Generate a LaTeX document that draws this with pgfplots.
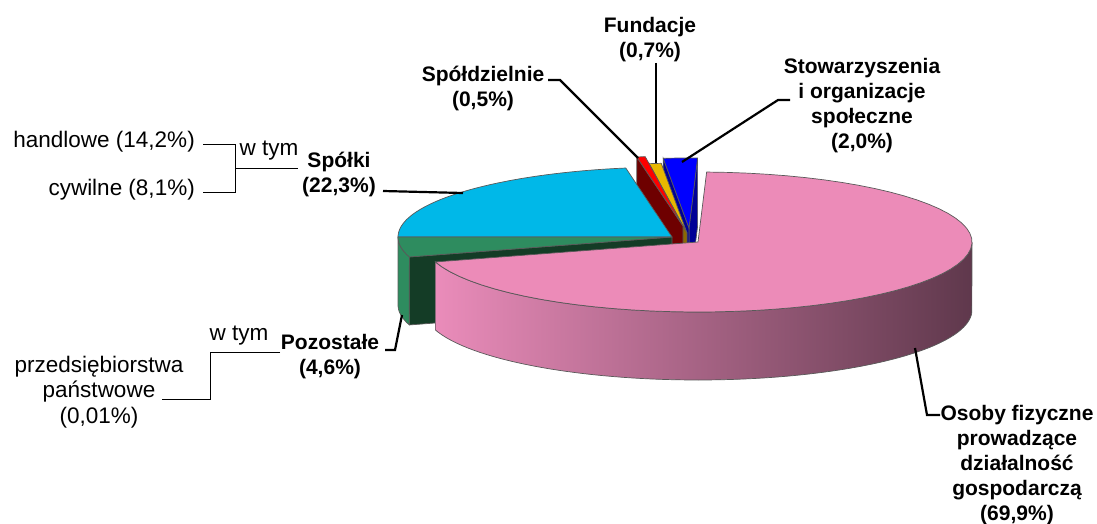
\documentclass[border=0pt]{standalone}
\usepackage{pgfplots}
\pgfplotsset{compat=1.18}
\usepackage{pgfplotstable}
\usepackage{fontspec}
\setmainfont{Liberation Sans}

\definecolor{cCyan}{RGB}{0,184,232}
\definecolor{cTeal}{RGB}{10,90,110}
\definecolor{cGreen}{RGB}{46,140,95}
\definecolor{cGreenD}{RGB}{20,60,38}
\definecolor{cPink}{RGB}{236,139,184}
\definecolor{cPinkL}{RGB}{234,140,186}
\definecolor{cPinkM}{RGB}{190,112,150}
\definecolor{cPinkD}{RGB}{95,56,76}
\definecolor{cRed}{RGB}{255,0,0}
\definecolor{cRedD}{RGB}{110,0,0}
\definecolor{cYel}{RGB}{232,184,0}
\definecolor{cYelD}{RGB}{140,105,0}
\definecolor{cBlue}{RGB}{0,0,255}
\definecolor{cBlueD}{RGB}{0,0,150}

% shares in percent, counter-clockwise starting at the blue slice
\pgfplotstableread{
slice pct
Stowarzyszenia 2.0
Fundacje 0.7
Spoldzielnie 0.5
Spolki 22.3
Pozostale 4.6
Osoby 69.9
}\slices
\pgfplotstablegetelem{0}{pct}\of\slices\let\pA\pgfplotsretval%
\pgfplotstablegetelem{1}{pct}\of\slices\let\pB\pgfplotsretval%
\pgfplotstablegetelem{2}{pct}\of\slices\let\pC\pgfplotsretval%
\pgfplotstablegetelem{3}{pct}\of\slices\let\pD\pgfplotsretval%
\pgfplotstablegetelem{4}{pct}\of\slices\let\pE\pgfplotsretval%
\pgfplotstablegetelem{5}{pct}\of\slices\let\pF\pgfplotsretval%
\pgfmathsetmacro\aA{180-3.6*(\pA+\pB+\pC+\pD)}%
\pgfmathsetmacro\aB{\aA+3.6*\pA}%
\pgfmathsetmacro\aC{\aB+3.6*\pB}%
\pgfmathsetmacro\aD{\aC+3.6*\pC}%
\pgfmathsetmacro\aE{\aD+3.6*\pD}%
\pgfmathsetmacro\aF{\aE+3.6*\pE}%
\pgfmathsetmacro\aG{\aF+3.6*\pF}%

\newcommand\RX{274}
\newcommand\RY{70}
\newcommand\DZ{68}

\newcommand\topface[5]{%
 \addplot[fill=#5,draw=black!65,line width=0.7pt,domain=#3:#4,samples=60,variable=\t]
   ({#1+\RX*cos(\t)},{#2-\RY*sin(\t)}) -- (axis cs:#1,#2) -- cycle;}
\newcommand\sideface[5]{%
 \addplot[#5,draw=black!65,line width=0.7pt,domain=0:2,samples=161,variable=\s]
 ({#1+\RX*cos(\s<1.00001 ? #3+(#4-#3)*\s : #4-(#4-#3)*(\s-1))},
  {#2-\RY*sin(\s<1.00001 ? #3+(#4-#3)*\s : #4-(#4-#3)*(\s-1))+(\s>1.00001)*\DZ}) -- cycle;}
\newcommand\radface[4]{%
 \pgfmathsetmacro\fx{#1+\RX*cos(#3)}%
 \pgfmathsetmacro\fy{#2-\RY*sin(#3)}%
 \pgfmathsetmacro\fyh{\fy+\DZ}%
 \pgfmathsetmacro\cyh{#2+\DZ}%
 \addplot[fill=#4,draw=black!65,line width=0.7pt] coordinates {(#1,#2) (\fx,\fy) (\fx,\fyh) (#1,\cyh)} -- cycle;}

\newcommand\bl{\fontsize{21}{25}\selectfont\bfseries}
\newcommand\nl{\fontsize{22.5}{25.5}\selectfont}

\begin{document}%
\begin{tikzpicture}
\begin{axis}[width=1097pt,height=524pt,scale only axis,
  xmin=0,xmax=1097,ymin=0,ymax=524,y dir=reverse,hide axis,clip=false]
% blue (Stowarzyszenia), exploded
\radface{689}{228}{\aA}{cBlueD}
\radface{689}{228}{\aB}{cBlueD}
\topface{689}{228}{\aA}{\aB}{cBlue}
% yellow (Fundacje)
\radface{687}{233}{\aC}{cYelD}
\topface{687}{233}{\aB}{\aC}{cYel}
% red (Spoldzielnie)
\radface{683}{226}{\aD}{cRedD}
\topface{683}{226}{\aC}{\aD}{cRed}
% cyan (Spolki)
\topface{672}{237}{\aD}{\aE}{cCyan}
\draw[cTeal,line width=2.5pt] (axis cs:399,238.5) -- (axis cs:671,238.5);
% green (Pozostale)
\sideface{672}{237}{\aE}{\aF}{fill=cGreen}
\radface{672}{237}{\aF}{cGreenD}
\topface{672}{237}{\aE}{\aF}{cGreen}
% pink (Osoby fizyczne), exploded
\sideface{698}{242}{\aF}{360}{left color=cPinkL,middle color=cPinkM,right color=cPinkD}
\topface{698}{242}{\aF}{\aG}{cPink}

% leader lines
\draw[line width=2.2pt] (axis cs:548,80) -- (axis cs:560,80) -- (axis cs:638,158);
\draw[line width=2.2pt] (axis cs:656,63) -- (axis cs:656,163);
\draw[line width=2.2pt] (axis cs:790,100) -- (axis cs:778,100) -- (axis cs:682,162);
\draw[line width=2.2pt] (axis cs:383,191) -- (axis cs:463,193);
\draw[line width=2.2pt] (axis cs:385,350) -- (axis cs:395,350) -- (axis cs:402,315);
\draw[line width=2.2pt] (axis cs:940,415) -- (axis cs:927,415) -- (axis cs:915,348);
% brackets
\draw[line width=1pt] (axis cs:203,144) -- (axis cs:235,144) -- (axis cs:235,192) -- (axis cs:203,192);
\draw[line width=1pt] (axis cs:235,168) -- (axis cs:298,168);
\draw[line width=1pt] (axis cs:280,352) -- (axis cs:210,352) -- (axis cs:210,399) -- (axis cs:162,399);

% labels
\node[font=\bl,align=center,inner sep=0pt] at (axis cs:650,40) {Fundacje\\(0,7\%)};
\node[font=\bl,align=center,inner sep=0pt] at (axis cs:483,88) {Spółdzielnie\\(0,5\%)};
\node[font=\bl,align=center,inner sep=0pt] at (axis cs:862,106) {Stowarzyszenia\\i organizacje\\społeczne\\(2,0\%)};
\node[font=\bl,align=center,inner sep=0pt] at (axis cs:339,174) {Spółki\\(22,3\%)};
\node[font=\bl,align=center,inner sep=0pt] at (axis cs:330,357) {Pozostałe\\(4,6\%)};
\node[font=\bl,align=center,inner sep=0pt] at (axis cs:1017,465) {Osoby fizyczne\\prowadzące\\działalność\\gospodarczą\\(69,9\%)};
\node[font=\nl,anchor=east,inner sep=0pt] at (axis cs:195,142) {handlowe (14,2\%)};
\node[font=\nl,anchor=east,inner sep=0pt] at (axis cs:195,190) {cywilne (8,1\%)};
\node[font=\nl,anchor=base,inner sep=0pt] at (axis cs:269,155) {w tym};
\node[font=\nl,anchor=base,inner sep=0pt] at (axis cs:239,340) {w tym};
\node[font=\nl,align=center,inner sep=0pt] at (axis cs:99,392) {przedsiębiorstwa\\państwowe\\(0,01\%)};
\end{axis}
\pgfresetboundingbox
\path[use as bounding box] (current axis.south west) rectangle (current axis.north east);
\end{tikzpicture}%
\end{document}
